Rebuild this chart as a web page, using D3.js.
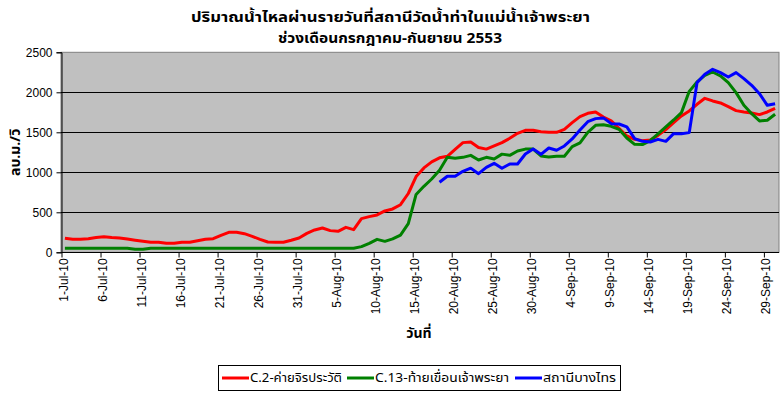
<!DOCTYPE html>
<html>
<head>
<meta charset="utf-8">
<script src="https://cdn.jsdelivr.net/npm/d3@7"></script>
<style>
  html, body { margin: 0; padding: 0; background: #fff; }
  svg { display: block; }
  text { font-family: "Liberation Sans", Arial, sans-serif; }
  .thai { font-family: "Noto Sans Thai", "Tahoma", "DejaVu Sans", sans-serif; }
</style>
</head>
<body>
<svg id="chart" width="783" height="393"></svg>
<script>
// ---------- DATA ----------
const titleLines = ["ปริมาณน้ำไหลผ่านรายวันที่สถานีวัดน้ำท่าในแม่น้ำเจ้าพระยา", "ช่วงเดือนกรกฎาคม-กันยายน 2553"];
const yLabel = "ลบ.ม./วิ";
const xLabel = "วันที่";
const seriesNames = ["C.2-ค่ายจิรประวัติ", "C.13-ท้ายเขื่อนเจ้าพระยา", "สถานีบางไทร"];
const seriesColors = ["#FF0000", "#008000", "#0000FF"];

// daily categories 1-Jul-2010 .. 30-Sep-2010
const days = d3.timeDay.range(new Date(2010, 6, 1), new Date(2010, 9, 1));

const c2 = [
  175,162,162,170,185,195,185,180,165,150,
  137,125,125,112,112,125,125,145,162,170,
  212,250,250,233,200,162,129,125,125,150,
  179,237,279,304,271,262,312,283,421,446,
  467,517,542,595,735,946,1055,1131,1181,1200,
  1287,1371,1379,1310,1290,1331,1371,1425,1487,1525,
  1525,1508,1500,1500,1537,1621,1696,1737,1754,1690,
  1642,1550,1454,1412,1396,1404,1462,1533,1621,1704,
  1767,1850,1925,1892,1867,1821,1771,1754,1742,1721,
  1754,1800
];
const c13 = [
  50,50,50,50,50,50,50,50,50,38,
  38,50,50,50,50,50,50,50,50,50,
  50,50,50,50,50,50,50,50,50,50,
  50,50,50,50,50,50,50,50,71,112,
  162,137,167,215,358,723,825,916,1025,1187,
  1175,1187,1212,1154,1187,1167,1227,1212,1267,1290,
  1290,1204,1192,1200,1200,1321,1367,1500,1587,1594,
  1575,1537,1429,1350,1346,1396,1479,1567,1654,1746,
  2012,2129,2212,2254,2204,2121,1996,1837,1733,1642,
  1650,1725
];
const bangsai = [
  null,null,null,null,null,null,null,null,null,null,
  null,null,null,null,null,null,null,null,null,null,
  null,null,null,null,null,null,null,null,null,null,
  null,null,null,null,null,null,null,null,null,null,
  null,null,null,null,null,null,null,null,875,950,
  950,1012,1052,983,1062,1112,1050,1104,1104,1229,
  1290,1225,1304,1275,1329,1417,1529,1633,1671,1680,
  1608,1604,1567,1421,1387,1379,1412,1387,1483,1483,
  1496,2121,2225,2287,2246,2192,2246,2171,2087,1983,
  1837,1858
];
const yTicks = [0, 500, 1000, 1500, 2000, 2500];
const xTickLabels = ["1-Jul-10","6-Jul-10","11-Jul-10","16-Jul-10","21-Jul-10","26-Jul-10","31-Jul-10",
  "5-Aug-10","10-Aug-10","15-Aug-10","20-Aug-10","25-Aug-10","30-Aug-10",
  "4-Sep-10","9-Sep-10","14-Sep-10","19-Sep-10","24-Sep-10","29-Sep-10"];

// ---------- LAYOUT ----------
const svg = d3.select("#chart");
const plot = { left: 61, right: 779, top: 52.3, bottom: 252.3 };

const x = d3.scaleBand().domain(d3.range(days.length)).range([plot.left, plot.right]).padding(0);
const y = d3.scaleLinear().domain([0, 2500]).range([plot.bottom, plot.top]);
const cx = i => x(i) + x.bandwidth() / 2;

// plot background
svg.append("rect")
  .attr("x", plot.left).attr("y", plot.top)
  .attr("width", plot.right - plot.left).attr("height", plot.bottom - plot.top)
  .attr("fill", "#C0C0C0").attr("stroke", "#808080").attr("stroke-width", 1);

// gridlines
svg.append("g").selectAll("line").data(yTicks.filter(d => d > 0 && d < 2500)).join("line")
  .attr("x1", plot.left).attr("x2", plot.right)
  .attr("y1", d => Math.round(y(d)) + 0.5).attr("y2", d => Math.round(y(d)) + 0.5)
  .attr("stroke", "#000").attr("stroke-width", 1);

// y axis
const yAxis = d3.axisLeft(y).tickValues(yTicks).tickSize(5).tickPadding(4).tickFormat(d3.format("d"));
const gy = svg.append("g").attr("transform", `translate(${plot.left + 0.5},0)`).call(yAxis);
gy.select(".domain").attr("stroke", "#000");
gy.selectAll(".tick line").attr("stroke", "#000");
gy.selectAll(".tick text").attr("font-size", 12).attr("fill", "#000")
  .attr("font-family", "'Liberation Sans', Arial, sans-serif");

// x axis
const tickIdx = d3.range(0, days.length, 5);
const xTickScale = d3.scaleLinear().domain([0, days.length]).range([plot.left, plot.right]);
const xAxis = d3.axisBottom(xTickScale).tickValues(tickIdx).tickSize(5).tickFormat("");
const gx = svg.append("g").attr("transform", `translate(0.5,${Math.round(plot.bottom) + 0.5})`).call(xAxis);
gx.select(".domain").attr("stroke", "#000").attr("d", `M${plot.left},0H${plot.right - 0.5}`);
gx.selectAll(".tick line").attr("stroke", "#000");

svg.append("g").selectAll("text").data(tickIdx).join("text")
  .attr("transform", i => `translate(${xTickScale(i) + 3},${plot.bottom + 6}) rotate(-90)`)
  .attr("text-anchor", "end").attr("dominant-baseline", "central")
  .attr("font-size", 12).attr("fill", "#000")
  .text((d, k) => xTickLabels[k]);

// series lines
const series = [c2, c13, bangsai];
const line = d3.line()
  .defined(d => d != null)
  .x((d, i) => cx(i))
  .y(d => y(d));
series.forEach((s, k) => {
  svg.append("path").datum(s)
    .attr("d", line)
    .attr("fill", "none")
    .attr("stroke", seriesColors[k])
    .attr("stroke-width", 3)
    .attr("stroke-linejoin", "round");
});

// title
svg.append("text").attr("class", "thai")
  .attr("x", 191).attr("y", 22)
  .attr("textLength", 399).attr("lengthAdjust", "spacingAndGlyphs")
  .attr("font-size", 14).attr("font-weight", "bold").text(titleLines[0]);
svg.append("text").attr("class", "thai")
  .attr("x", 278).attr("y", 43)
  .attr("textLength", 224).attr("lengthAdjust", "spacingAndGlyphs")
  .attr("font-size", 14).attr("font-weight", "bold").text(titleLines[1]);

// axis titles
svg.append("text").attr("class", "thai")
  .attr("transform", `translate(20,${(plot.top + plot.bottom) / 2}) rotate(-90)`)
  .attr("text-anchor", "middle")
  .attr("font-size", 14).attr("font-weight", "bold").text(yLabel);
svg.append("text").attr("class", "thai")
  .attr("x", 419).attr("y", 338).attr("text-anchor", "middle")
  .attr("font-size", 14).attr("font-weight", "bold").text(xLabel);

// legend
const legend = svg.append("g");
legend.append("rect").attr("x", 218.5).attr("y", 365.5).attr("width", 402).attr("height", 25)
  .attr("fill", "#fff").attr("stroke", "#000").attr("stroke-width", 1);
const legendX = [222, 347, 515];
const legendW = [92, 134, 73];
seriesNames.forEach((n, k) => {
  legend.append("line")
    .attr("x1", legendX[k]).attr("x2", legendX[k] + 27)
    .attr("y1", 378).attr("y2", 378)
    .attr("stroke", seriesColors[k]).attr("stroke-width", 3);
  legend.append("text").attr("class", "thai")
    .attr("x", legendX[k] + 28).attr("y", 378)
    .attr("dominant-baseline", "central")
    .attr("textLength", legendW[k]).attr("lengthAdjust", "spacingAndGlyphs")
    .attr("font-size", 13).text(n);
});
</script>
</body>
</html>
